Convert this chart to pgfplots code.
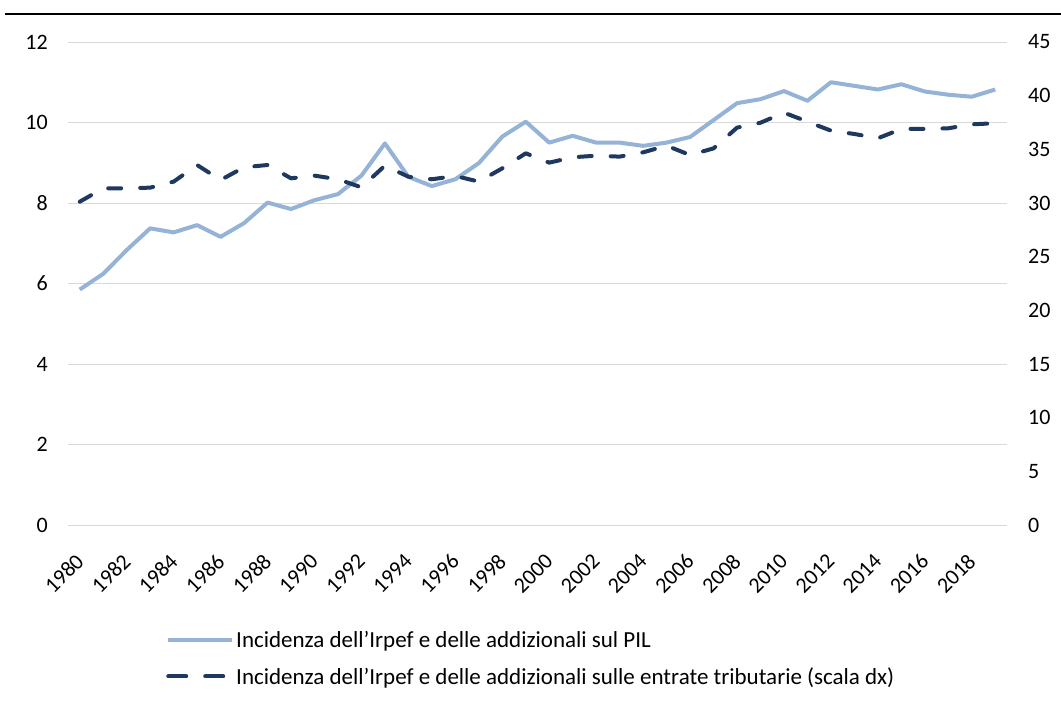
\documentclass[border=0pt]{standalone}
\usepackage{fontspec}
\setmainfont{Carlito}
\usepackage{pgfplots}
\pgfplotsset{compat=1.18}
\usepackage{pgfplotstable}

\definecolor{pilblue}{RGB}{149,179,215}
\definecolor{entnavy}{RGB}{31,56,96}
\definecolor{gridgray}{RGB}{217,217,217}

% anno, incidenza su PIL (sx), incidenza su entrate tributarie (dx)
\pgfplotstableread{
year pil entrate
1980 5.85 30.12
1981 6.24 31.37
1982 6.83 31.37
1983 7.37 31.43
1984 7.27 31.99
1985 7.45 33.54
1986 7.16 32.14
1987 7.50 33.33
1988 8.01 33.54
1989 7.85 32.30
1990 8.07 32.55
1991 8.22 32.21
1992 8.68 31.46
1993 9.48 33.48
1994 8.65 32.45
1995 8.42 32.21
1996 8.59 32.52
1997 8.99 31.99
1998 9.65 33.23
1999 10.02 34.63
2000 9.50 33.76
2001 9.67 34.26
2002 9.50 34.41
2003 9.50 34.32
2004 9.42 34.72
2005 9.50 35.34
2006 9.64 34.47
2007 10.06 35.09
2008 10.48 37.02
2009 10.58 37.48
2010 10.78 38.42
2011 10.54 37.58
2012 11.00 36.74
2013 10.91 36.43
2014 10.82 36.03
2015 10.95 36.90
2016 10.77 36.90
2017 10.69 36.96
2018 10.64 37.33
2019 10.82 37.43
}\datatab

\pgfplotsset{
  common/.style={
    scale only axis, width=939pt, height=483pt,
    at={(0,0)}, anchor=south west,
    xmin=1979.5, xmax=2019.5,
    axis line style={draw=none},
    major tick length=0pt,
    tick style={draw=none},
    /pgf/number format/assume math mode=true,
    /pgf/number format/1000 sep={},
    ticklabel style={font=\fontsize{22}{24}\selectfont},
  },
}

\begin{document}
\begin{tikzpicture}
\path[use as bounding box] (-68pt,-177pt) rectangle (993pt,525pt);
\draw[black, line width=2.2pt] (-63pt,511pt) -- (993pt,511pt);

\begin{axis}[common,
  ymin=0, ymax=12, ytick={0,2,...,12},
  ymajorgrids, grid style={gridgray, line width=0.9pt},
  xtick={1980,1982,...,2018},
  xticklabel style={rotate=45, anchor=north east, inner sep=0pt, yshift=-15.5pt, xshift=-23pt},
  yticklabel style={anchor=east, inner sep=0pt, xshift=-20pt},
  legend style={draw=none, fill=none, at={(axis description cs:0.1044,-0.216)}, anchor=north west,
    font=\fontsize{23}{25}\selectfont, row sep=14pt, inner sep=0pt,
    nodes={inner sep=2pt, anchor=west}},
  legend cell align=left,
  legend image code/.code={\draw[#1] (0pt,0pt) -- (64pt,0pt);},
]
\addplot[pilblue, line width=4pt, line join=round] table[x=year, y=pil] {\datatab};
\addlegendentry{Incidenza dell’Irpef e delle addizionali sul PIL}
\addlegendimage{entnavy, line width=4pt, line cap=round, dash pattern=on 18pt off 19pt}
\addlegendentry{Incidenza dell’Irpef e delle addizionali sulle entrate tributarie (scala dx)}
\end{axis}

\begin{axis}[common,
  axis x line=none, axis y line*=right,
  ymin=0, ymax=45, ytick={0,5,...,45},
  yticklabel style={anchor=west, inner sep=0pt, xshift=21pt},
]
\addplot[entnavy, line width=4pt, line cap=round, line join=round, dash pattern=on 13pt off 19pt] table[x=year, y=entrate] {\datatab};
\end{axis}
\end{tikzpicture}
\end{document}
